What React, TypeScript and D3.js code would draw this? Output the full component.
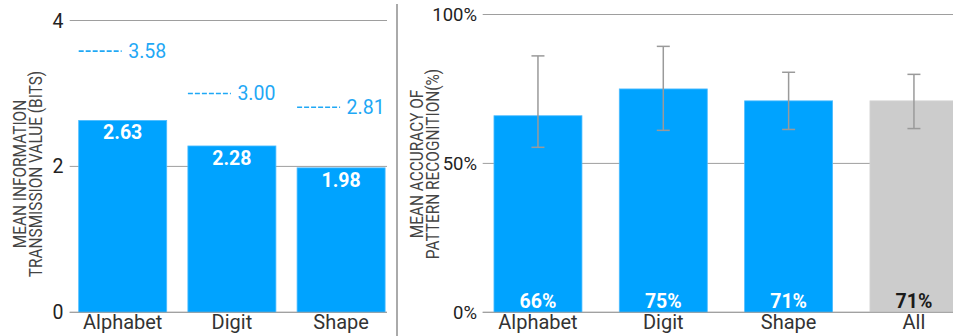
import React from "react";
import * as d3 from "d3";

const leftCategories = ["Alphabet", "Digit", "Shape"];
const transmissionValues = [2.63, 2.28, 1.98];
const maxTransmission = [3.58, 3.0, 2.81];
const leftTicks = [0, 2, 4];

const rightCategories = ["Alphabet", "Digit", "Shape", "All"];
const accuracyValues = [66, 75, 71, 71];
const errorLow = [55.4, 61.1, 61.4, 61.7];
const errorHigh = [86.1, 89.3, 80.6, 79.9];
const rightTicks = [0, 50, 100];

const W = 953;
const H = 336;
const FONT = "Roboto, 'Noto Sans', sans-serif";
const BLUE = "#00a3ff";
const LIGHT_BLUE = "#1fa8f5";
const GRAY_BAR = "#cccccc";
const GRID = "#9e9e9e";

export default function App() {
  const xL = d3.scaleBand<string>().domain(leftCategories).range([68.1, 395.7]).paddingInner(0.194).paddingOuter(0.097);
  const yL = d3.scaleLinear().domain([0, 4]).range([312.3, 20.5]);

  const xR = d3.scaleBand<string>().domain(rightCategories).range([475.3, 976.6]).paddingInner(0.298).paddingOuter(0.149);
  const yR = d3.scaleLinear().domain([0, 100]).range([312.3, 14.5]);

  const fmt2 = d3.format(".2f");

  return (
    <svg width={W} height={H} style={{ position: "absolute", left: 0, top: 0, background: "#fff" }} fontFamily={FONT}>
      {/* LEFT PANEL */}
      {leftTicks.map((t) => (
        <g key={"lt" + t}>
          <line x1={69.7} x2={387} y1={yL(t)} y2={yL(t)} stroke={GRID} strokeWidth={1} />
          <text x={63.5} y={yL(t)} dy="0.36em" textAnchor="end" fontSize={19.5} fill="#222">
            {t}
          </text>
        </g>
      ))}
      {leftCategories.map((c, i) => {
        const x = xL(c)!;
        const bw = xL.bandwidth();
        const v = transmissionValues[i];
        const m = maxTransmission[i];
        return (
          <g key={"lb" + c}>
            <rect x={x} y={yL(v)} width={bw} height={yL(0) - yL(v)} fill={BLUE} stroke="#4dbcff" strokeWidth={0.8} />
            <text x={x + bw / 2} y={yL(v) + 19} textAnchor="middle" fontSize={19.5} fontWeight="bold" fill="#fff">
              {fmt2(v)}
            </text>
            <line x1={x} x2={x + 43} y1={yL(m)} y2={yL(m)} stroke={LIGHT_BLUE} strokeWidth={1.6} strokeDasharray="5 2" />
            <text x={x + 49.5} y={yL(m)} dy="0.36em" fontSize={19.5} fill={LIGHT_BLUE}>
              {fmt2(m)}
            </text>
            <text x={x + bw / 2} y={328.5} textAnchor="middle" fontSize={20} fill="#333">
              {c}
            </text>
          </g>
        );
      })}
      <line x1={69.7} x2={387} y1={yL(0)} y2={yL(0)} stroke={GRID} strokeWidth={1} />
      <text transform="translate(19.5,174) scale(1.2,1) rotate(-90)" textAnchor="middle" fontSize={15.4} fill="#444" dy="0.36em">
        MEAN INFORMATION
      </text>
      <text transform="translate(35,174) scale(1.2,1) rotate(-90)" textAnchor="middle" fontSize={15.4} fill="#444" dy="0.36em">
        TRANSMISSION VALUE (BITS)
      </text>

      {/* Divider */}
      <line x1={397} x2={397} y1={4} y2={H} stroke="#aaaaaa" strokeWidth={2} />

      {/* RIGHT PANEL */}
      {rightTicks.map((t) => (
        <g key={"rt" + t}>
          <line x1={482.7} x2={W} y1={yR(t)} y2={yR(t)} stroke={GRID} strokeWidth={1} />
          <text x={477} y={yR(t)} dy="0.36em" textAnchor="end" fontSize={18.5} fill="#222">
            {t}%
          </text>
        </g>
      ))}
      {rightCategories.map((c, i) => {
        const x = xR(c)!;
        const bw = xR.bandwidth();
        const v = accuracyValues[i];
        const isAll = c === "All";
        const cx = x + bw / 2;
        return (
          <g key={"rb" + c}>
            <rect x={x} y={yR(v)} width={bw} height={yR(0) - yR(v)} fill={isAll ? GRAY_BAR : BLUE} stroke={isAll ? "#d4d4d4" : "#4dbcff"} strokeWidth={0.8} />
            <text x={cx} y={yR(0) - 4.5} textAnchor="middle" fontSize={19.5} fontWeight="bold" fill={isAll ? "#1a1a1a" : "#fff"}>
              {v}%
            </text>
            <text x={cx} y={328.5} textAnchor="middle" fontSize={20} fill="#333">
              {c}
            </text>
          </g>
        );
      })}
      <line x1={482.7} x2={W} y1={yR(0)} y2={yR(0)} stroke={GRID} strokeWidth={1} />
      {rightCategories.map((c, i) => {
        const cx = xR(c)! + xR.bandwidth() / 2;
        return (
          <g key={"eb" + c} stroke="#9a9a9a" strokeWidth={1.5}>
            <line x1={cx} x2={cx} y1={yR(errorHigh[i])} y2={yR(errorLow[i])} />
            <line x1={cx - 6.5} x2={cx + 6.5} y1={yR(errorHigh[i])} y2={yR(errorHigh[i])} />
            <line x1={cx - 6.5} x2={cx + 6.5} y1={yR(errorLow[i])} y2={yR(errorLow[i])} />
          </g>
        );
      })}
      <text transform="translate(416,164) scale(1.2,1) rotate(-90)" textAnchor="middle" fontSize={15.4} fill="#444" dy="0.36em">
        MEAN ACCURACY OF
      </text>
      <text transform="translate(432,164) scale(1.2,1) rotate(-90)" textAnchor="middle" fontSize={15.4} fill="#444" dy="0.36em">
        PATTERN RECOGNITION(%)
      </text>
    </svg>
  );
}
